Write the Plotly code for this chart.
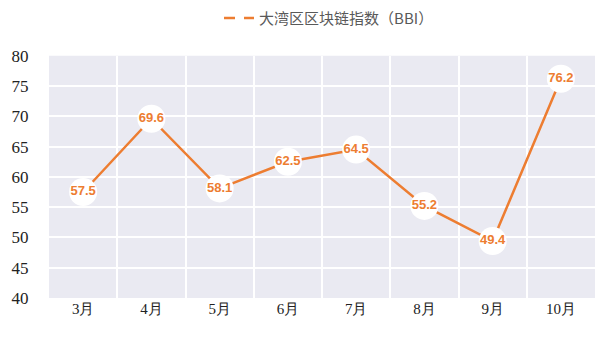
import plotly.graph_objects as go

months = ["3月", "4月", "5月", "6月", "7月", "8月", "9月", "10月"]
bbi = [57.5, 69.6, 58.1, 62.5, 64.5, 55.2, 49.4, 76.2]
series_name = "大湾区区块链指数（BBI）"
y_ticks = [40, 45, 50, 55, 60, 65, 70, 75, 80]

orange = "#ED7D31"
serif = "Liberation Serif"

fig = go.Figure()
fig.add_trace(go.Scatter(
    x=months, y=bbi, mode="lines+markers+text",
    line=dict(color=orange, width=2.5),
    marker=dict(size=28, color="white", line=dict(width=0)),
    text=[f"{v:.1f}" for v in bbi], textposition="middle center",
    textfont=dict(color=orange, size=13, family="Liberation Sans", weight="bold"),
    showlegend=False, cliponaxis=False,
))
fig.add_trace(go.Scatter(
    x=[None], y=[None], mode="lines", name=series_name,
    line=dict(color=orange, width=2.5, dash="11px,9px"),
))

fig.update_layout(
    width=615, height=341,
    font=dict(family=serif, color="#222"),
    margin=dict(l=46, r=20, t=55, b=43),
    paper_bgcolor="white", plot_bgcolor="#EAEAF2",
    legend=dict(orientation="h", x=0.535, xanchor="center", xref="container",
                y=0.995, yanchor="top", yref="container",
                font=dict(size=15, color="#595959", family="Noto Sans CJK SC")),
    xaxis=dict(type="category", tickson="boundaries", showgrid=True,
               gridcolor="white", gridwidth=2, showline=False, zeroline=False,
               ticks="outside", ticklen=8, tickcolor="rgba(0,0,0,0)",
               tickfont=dict(family=serif, size=15, color="#222"),
               range=[-0.5, 7.5]),
    yaxis=dict(range=[40, 80], tickvals=y_ticks, showgrid=True,
               gridcolor="white", gridwidth=2, zeroline=False, showline=False,
               ticks="outside", ticklen=16, tickcolor="rgba(0,0,0,0)",
               tickfont=dict(family=serif, size=17, color="#222")),
)

fig.write_html("out.html")
